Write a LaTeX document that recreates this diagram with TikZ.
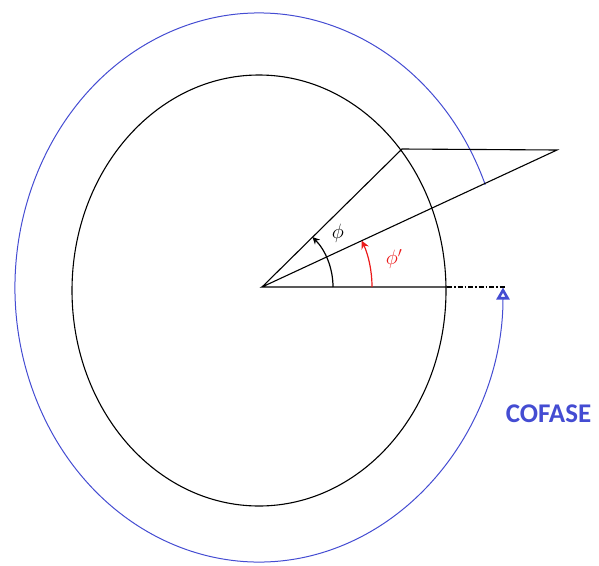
\documentclass[tikz,border=0pt]{standalone}
\usepackage{fontspec}
\newfontfamily\cofasefont{Carlito}
\usetikzlibrary{arrows.meta}
\definecolor{cblue}{RGB}{68,76,210}
\definecolor{cred}{RGB}{235,25,25}
\begin{document}
\begin{tikzpicture}[x=1pt,y=1pt,
  blk/.style={line width=1.1pt,black},
  bluearc/.style={line width=1pt,cblue,-{Triangle[open,length=12pt,width=13pt,line width=2.6pt]}},
  angblack/.style={line width=1.2pt,black,-{Stealth[length=7pt,width=7pt]}},
  angred/.style={line width=1.2pt,cred,-{Stealth[length=8pt,width=8pt]}},
  dashdot/.style={line width=1.1pt,black,dash pattern=on 5pt off 2pt on 1.5pt off 2pt}]
\useasboundingbox (0,0) rectangle (599,-565);
% key points
\coordinate (C) at (259,-290.5);
\coordinate (CB) at (259,-287.5);
\coordinate (V) at (262,-287);
\coordinate (A) at (402,-149);
\coordinate (T) at (557,-150);
\coordinate (R) at (447,-287);
\coordinate (D) at (505,-287);
% inner ellipse
\draw[blk] (C) ellipse [x radius=187pt, y radius=215.5pt];
% outer blue arc
\draw[bluearc] ([shift={(22:244pt and 274.5pt)}]CB) arc[start angle=22, end angle=360, x radius=244pt, y radius=274.5pt];
% lines
\draw[blk] (V) -- (A) -- (T) -- (V) -- (R);
\draw[dashdot] (R) -- (D);
% angle arcs
\draw[angblack] ([shift={(0:71pt)}]V) arc[start angle=0, end angle=44.6, radius=71pt];
\draw[angred] ([shift={(0:110pt)}]V) arc[start angle=0, end angle=24.9, radius=110pt];
% labels
\node[font=\fontsize{20}{20}\selectfont] (phi1) at (338,-233) {$\phi$};
\node[text=cred,font=\fontsize{20}{20}\selectfont] (phi2) at (394,-259) {$\phi'$};
\node[text=cblue,font=\cofasefont\bfseries\fontsize{27}{27}\selectfont] (cof) at (548.5,-414) {COFASE};
\end{tikzpicture}
\end{document}
